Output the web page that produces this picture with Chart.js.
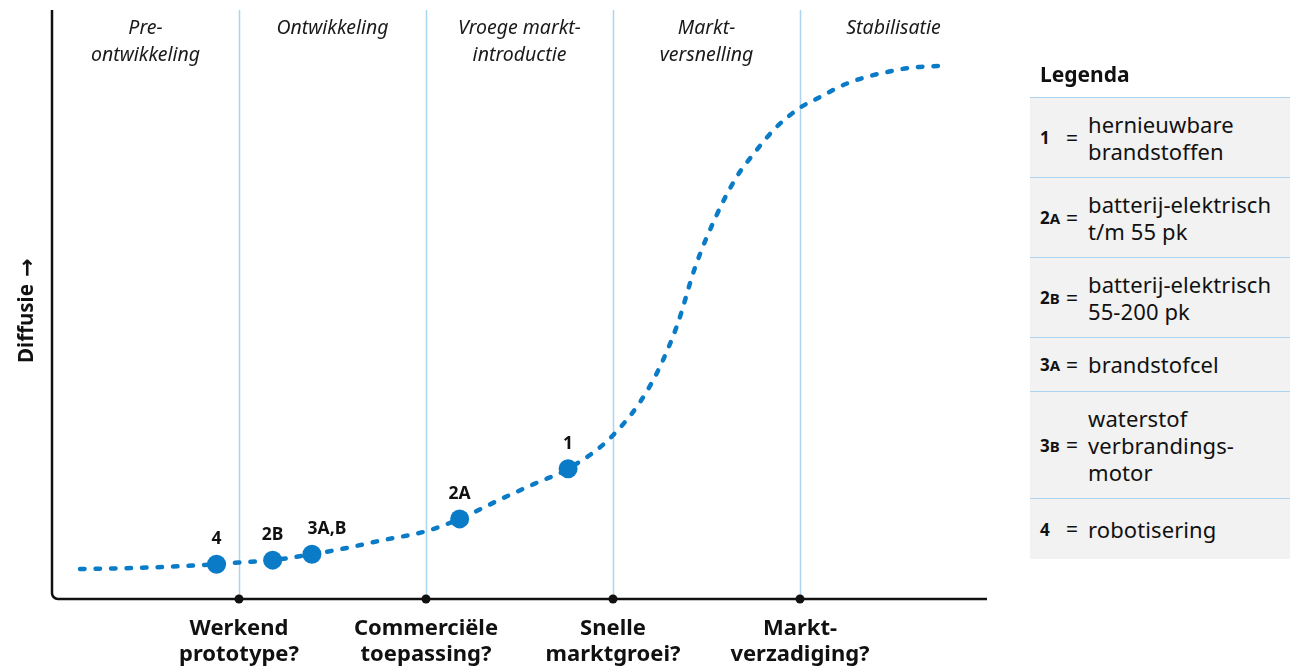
<!DOCTYPE html>
<html>
<head>
<meta charset="utf-8">
<script src="https://cdn.jsdelivr.net/npm/chart.js@4/dist/chart.umd.min.js"></script>
<style>
  html, body { margin:0; padding:0; background:#fff; }
  #wrap { position:relative; width:1290px; height:669px; overflow:hidden; }
  #c { position:absolute; left:0; top:0; }
  #legTitle { position:absolute; left:1040px; top:59px; font:bold 21px 'Noto Sans', sans-serif; color:#111; line-height:30px; }
  #legBox { position:absolute; left:1030px; top:97px; width:260px; height:462px; background:#f2f2f2; display:flex; flex-direction:column; }
  .row { display:flex; align-items:center; border-top:1.5px solid #a9d5f0; padding:12.5px 0 12.5px 10px; font-family:'Noto Sans', sans-serif; color:#111; }
  .key { width:26px; font-weight:bold; font-size:17px; }
  .key small { font-size:15px; }
  .eq { width:22px; font-size:21px; }
  .desc { font-size:22px; line-height:27px; white-space:pre; letter-spacing:0.1px; }
</style>
</head>
<body>
<div id="wrap">
  <canvas id="c" width="1290" height="669"></canvas>
  <div id="legTitle">Legenda</div>
  <div id="legBox"></div>
</div>
<script>
// ---- data ----
const phaseNames = ["Pre-\nontwikkeling", "Ontwikkeling", "Vroege markt-\nintroductie", "Markt-\nversnelling", "Stabilisatie"];
const milestoneNames = ["Werkend\nprototype?", "Commerciële\ntoepassing?", "Snelle\nmarktgroei?", "Markt-\nverzadiging?"];
const milestoneX = [1, 2, 3, 4];
const curveX = [0.15, 0.47, 0.88, 1.0, 1.18, 1.39, 1.55, 1.77, 2.0, 2.18, 2.41, 2.59, 2.76, 3.0, 3.2, 3.34, 3.44, 3.55, 3.66, 3.76, 3.87, 4.0, 4.10, 4.22, 4.34, 4.47, 4.59, 4.74];
const curveY = [5.1, 5.3, 5.9, 6.2, 6.6, 7.6, 8.5, 10.0, 11.5, 13.6, 17.1, 19.7, 22.1, 27.8, 36.3, 46.2, 56.4, 64.9, 71.6, 75.9, 80.0, 83.4, 85.1, 87.1, 88.5, 89.5, 90.2, 90.5];
const techLabels = ["4", "2B", "3A,B", "2A", "1"];
const techX = [0.88, 1.18, 1.39, 2.18, 2.76];
const techY = [5.9, 6.6, 7.6, 13.6, 22.1];
const yTitle = ["Diffusie", "\u2192"];
const legendKeys = ["1", "2A", "2B", "3A", "3B", "4"];
const legendTexts = ["hernieuwbare\nbrandstoffen", "batterij-elektrisch\nt/m 55 pk", "batterij-elektrisch\n55-200 pk", "brandstofcel", "waterstof\nverbrandings-\nmotor", "robotisering"];

// ---- legend ----
const box = document.getElementById('legBox');
legendKeys.forEach((k, i) => {
  const row = document.createElement('div');
  row.className = 'row';
  if (i === legendKeys.length - 1) row.style.flex = '1';
  const key = document.createElement('div');
  key.className = 'key';
  key.innerHTML = k.length > 1 ? k[0] + '<small>' + k.slice(1) + '</small>' : k;
  const eq = document.createElement('div'); eq.className = 'eq'; eq.textContent = '=';
  const d = document.createElement('div'); d.className = 'desc'; d.textContent = legendTexts[i];
  row.appendChild(key); row.appendChild(eq); row.appendChild(d);
  box.appendChild(row);
});

// ---- styles ----
const BLUE = '#0a7bc7';
const PHASE_LINE = '#a9d5f0';
const labelShift = { '3A,B': 15 };

const decor = {
  id: 'decor',
  beforeDatasetsDraw(chart) {
    const ctx = chart.ctx, a = chart.chartArea, xs = chart.scales.x;
    ctx.save();
    // phase lines
    ctx.strokeStyle = PHASE_LINE; ctx.lineWidth = 1.5;
    milestoneX.forEach(v => {
      const px = Math.round(xs.getPixelForValue(v)) + 0.5;
      ctx.beginPath(); ctx.moveTo(px, a.top); ctx.lineTo(px, a.bottom); ctx.stroke();
    });
    // axes
    ctx.strokeStyle = '#111'; ctx.lineWidth = 2.5; ctx.lineJoin = 'round';
    const r = 6;
    ctx.beginPath();
    ctx.moveTo(a.left, a.top);
    ctx.lineTo(a.left, a.bottom - r);
    ctx.arcTo(a.left, a.bottom, a.left + r, a.bottom, r);
    ctx.lineTo(a.right, a.bottom);
    ctx.stroke();
    // milestone dots
    ctx.fillStyle = '#111';
    milestoneX.forEach(v => {
      ctx.beginPath(); ctx.arc(xs.getPixelForValue(v), a.bottom, 4.5, 0, Math.PI * 2); ctx.fill();
    });
    // phase names
    ctx.fillStyle = '#1a1a1a'; ctx.textAlign = 'center'; ctx.textBaseline = 'middle';
    ctx.font = 'italic 19.5px "Noto Sans"';
    phaseNames.forEach((t, i) => {
      const cx = xs.getPixelForValue(i + 0.5);
      t.split('\n').forEach((ln, j) => ctx.fillText(ln, cx, 28 + j * 27));
    });
    // milestone names
    ctx.fillStyle = '#111'; ctx.font = 'bold 22px "Noto Sans"';
    milestoneNames.forEach((t, i) => {
      const cx = xs.getPixelForValue(milestoneX[i]);
      t.split('\n').forEach((ln, j) => ctx.fillText(ln, cx, 629 + j * 26));
    });
    // y title
    ctx.save();
    ctx.translate(27, 363); ctx.rotate(-Math.PI / 2);
    ctx.textAlign = 'left';
    ctx.font = 'bold 20.5px "Noto Sans"';
    ctx.fillText(yTitle[0], 0, 0);
    const w = ctx.measureText(yTitle[0] + ' ').width;
    ctx.font = 'bold 22px "DejaVu Sans"';
    ctx.fillText(yTitle[1], w + 2, 1);
    ctx.restore();
    ctx.restore();
  },
  afterDatasetsDraw(chart) {
    const ctx = chart.ctx, xs = chart.scales.x, ys = chart.scales.y;
    ctx.save();
    ctx.fillStyle = '#111'; ctx.font = 'bold 17.5px "Noto Sans"';
    ctx.textAlign = 'center'; ctx.textBaseline = 'middle';
    techLabels.forEach((t, i) => {
      ctx.fillText(t, xs.getPixelForValue(techX[i]) + (labelShift[t] || 0), ys.getPixelForValue(techY[i]) - 25);
    });
    ctx.restore();
  }
};

new Chart(document.getElementById('c'), {
  type: 'scatter',
  data: {
    datasets: [
      {
        data: curveX.map((x, i) => ({ x, y: curveY[i] })),
        showLine: true,
        borderColor: BLUE,
        borderWidth: 4.5,
        borderDash: [4.5, 11],
        borderCapStyle: 'round',
        cubicInterpolationMode: 'monotone',
        pointRadius: 0,
        clip: false,
        order: 2
      },
      {
        data: techX.map((x, i) => ({ x, y: techY[i] })),
        showLine: false,
        pointRadius: 9.5,
        pointBackgroundColor: BLUE,
        pointBorderWidth: 0,
        clip: false,
        order: 1
      }
    ]
  },
  options: {
    responsive: false,
    animation: false,
    devicePixelRatio: 1,
    layout: { padding: { left: 52, right: 303, top: 10, bottom: 70 } },
    scales: {
      x: { type: 'linear', min: 0, max: 5, display: false },
      y: { type: 'linear', min: 0, max: 100, display: false }
    },
    plugins: { legend: { display: false }, tooltip: { enabled: false } }
  },
  plugins: [decor]
});
</script>
</body>
</html>
